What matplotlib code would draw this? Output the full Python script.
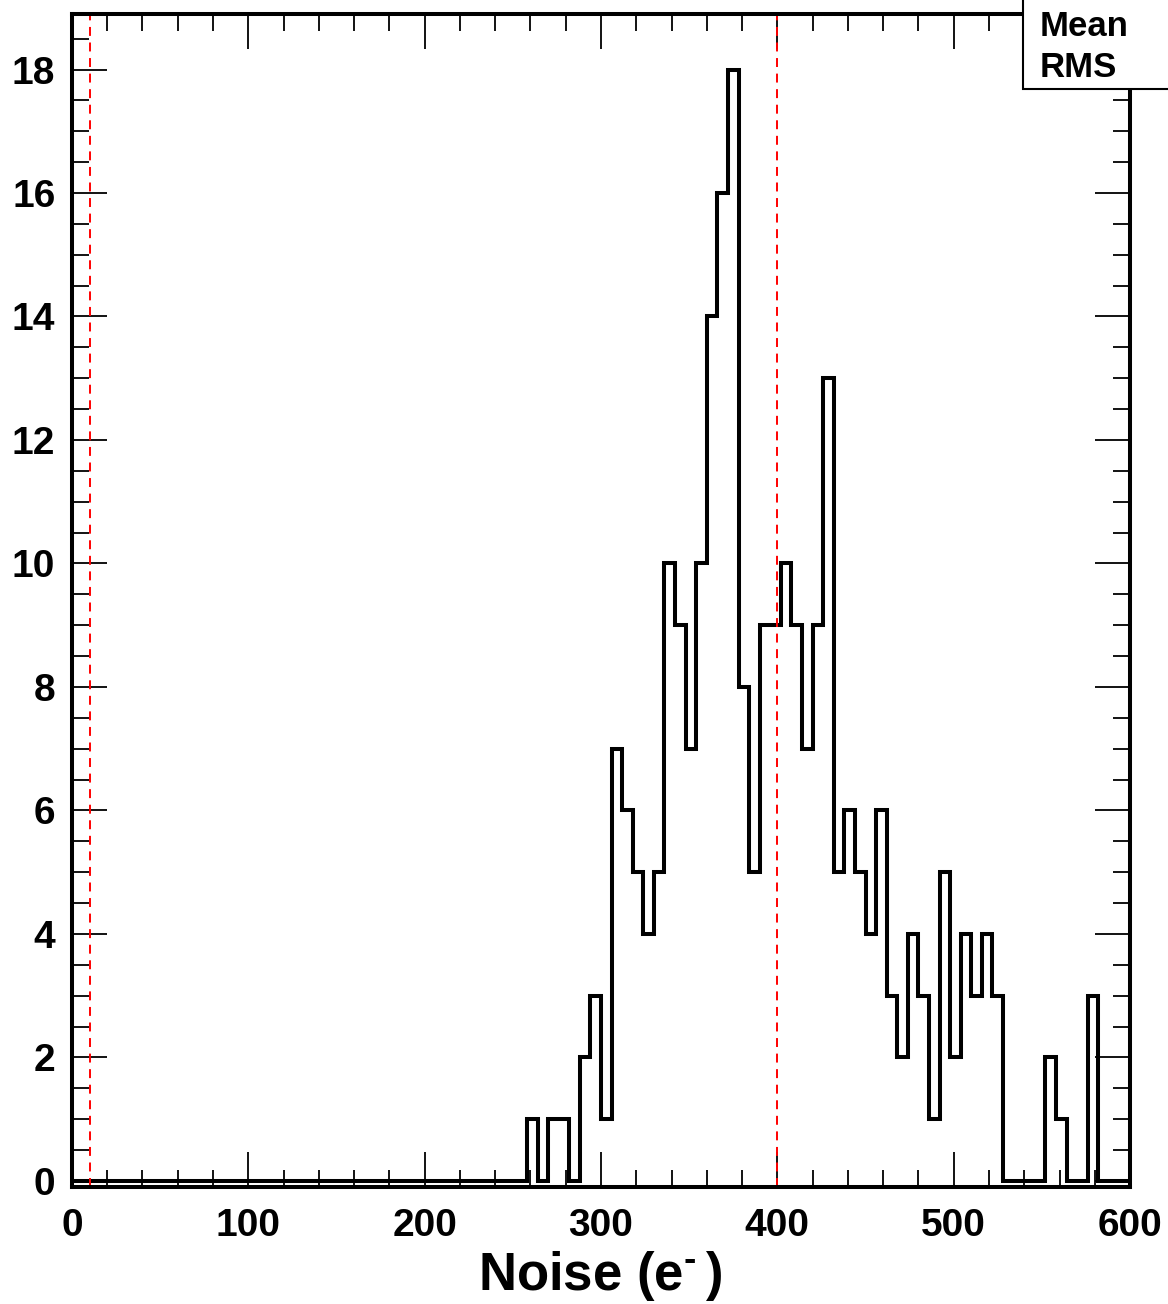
import numpy as np
import matplotlib.pyplot as plt
from matplotlib.ticker import MultipleLocator
from matplotlib.patches import Rectangle

plt.rcParams['font.family'] = ['Liberation Sans', 'DejaVu Sans']
plt.rcParams['font.weight'] = 'bold'
plt.rcParams['mathtext.fontset'] = 'custom'
plt.rcParams['mathtext.rm'] = 'Liberation Sans:bold'
plt.rcParams['mathtext.bf'] = 'Liberation Sans:bold'
plt.rcParams['mathtext.it'] = 'Liberation Sans:bold'

# Histogram: 100 bins of 6 e- from 0 to 600
x_min, x_max, bin_width = 0, 600, 6
counts = [
    0, 0, 0, 0, 0, 0, 0, 0, 0, 0,
    0, 0, 0, 0, 0, 0, 0, 0, 0, 0,
    0, 0, 0, 0, 0, 0, 0, 0, 0, 0,
    0, 0, 0, 0, 0, 0, 0, 0, 0, 0,
    0, 0, 0, 1, 0, 1, 1, 0, 2, 3,
    1, 7, 6, 5, 4, 5, 10, 9, 7, 10,
    14, 16, 18, 8, 5, 9, 9, 10, 9, 7,
    9, 13, 5, 6, 5, 4, 6, 3, 2, 4,
    3, 1, 5, 2, 4, 3, 4, 3, 0, 0,
    0, 0, 2, 1, 0, 0, 3, 0, 0, 0,
]
cut_lines = [10, 400]
x_ticks = [0, 100, 200, 300, 400, 500, 600]
y_ticks = [0, 2, 4, 6, 8, 10, 12, 14, 16, 18]
stats_labels = ["Mean", "RMS"]

edges = np.arange(x_min, x_max + bin_width, bin_width)

fig = plt.figure(figsize=(11.68, 13.04), dpi=100)
ax = fig.add_axes([0.0616, 0.0897, 0.9059, 0.8996])

ax.stairs(counts, edges, baseline=None, color='black', lw=2.9)
for xc in cut_lines:
    ax.axvline(xc, color='red', lw=1.4, ls=(0, (4.6, 3.4)))

ax.set_xlim(x_min, x_max)
ax.set_ylim(-0.1, 18.9)
ax.set_xticks(x_ticks)
ax.set_yticks(y_ticks)
ax.xaxis.set_minor_locator(MultipleLocator(20))
ax.yaxis.set_minor_locator(MultipleLocator(0.5))
ax.tick_params(which='both', direction='in', top=True, right=True, width=1.3, labelsize=28)
ax.tick_params(which='major', length=25)
ax.tick_params(which='minor', length=12.5)
ax.tick_params(axis='x', pad=15)
ax.tick_params(axis='y', pad=12)
for sp in ax.spines.values():
    sp.set_linewidth(2.9)

fig.text(600 / 1168, 1 - 1290 / 1304, r'Noise (e$^{\text{-}}\,$)', fontsize=38,
         fontweight='bold', ha='center', va='baseline')

# stats box (cut off at the canvas edge)
box = Rectangle((1023 / 1168, 1 - 89 / 1304), 0.2, 0.2, transform=fig.transFigure,
                facecolor='white', edgecolor='black', lw=1.5, zorder=10, clip_on=False)
fig.add_artist(box)
for lab, yb in zip(stats_labels, [36, 77]):
    fig.text(1040 / 1168, 1 - yb / 1304, lab, fontsize=25, fontweight='bold',
             ha='left', va='baseline', zorder=11)

fig.savefig('out.png', dpi=100)
